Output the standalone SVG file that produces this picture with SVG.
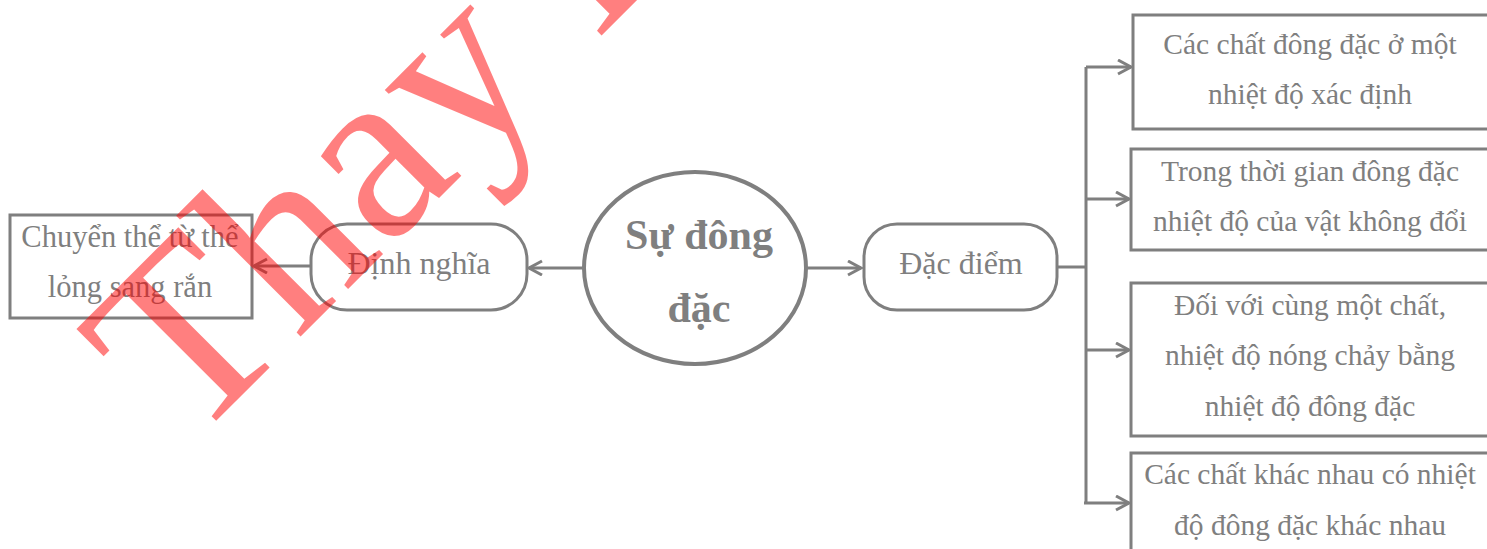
<svg xmlns="http://www.w3.org/2000/svg" width="1487" height="549" viewBox="0 0 1487 549">
<style>
.box{fill:#fff;stroke:#7f7f7f;stroke-width:3}
.ell{fill:#fff;stroke:#7f7f7f;stroke-width:4}
.t{font-family:"Liberation Serif","Times New Roman",serif;font-size:29.5px;fill:#7f7f7f;text-anchor:middle}
.tl{font-size:30.5px}
.tm{font-size:32px}
.tb{font-family:"Liberation Serif","Times New Roman",serif;font-size:42px;font-weight:bold;fill:#7f7f7f;text-anchor:middle}
.c{fill:none;stroke:#7f7f7f;stroke-width:3}
.wm{font-family:"Liberation Serif","Times New Roman",serif;font-size:250px;fill:#ff0000;fill-opacity:0.5}
</style>
<defs>
<marker id="arr" markerUnits="userSpaceOnUse" markerWidth="20" markerHeight="20" refX="15" refY="8" orient="auto">
<path d="M2,1 L15,8 L2,15" fill="none" stroke="#7f7f7f" stroke-width="3"/>
</marker>
</defs>
<rect width="1487" height="549" fill="#fff"/>
<g id="connectors">
<line class="c" x1="583" y1="268" x2="529" y2="268" marker-end="url(#arr)"/>
<line class="c" x1="310" y1="266" x2="254" y2="266" marker-end="url(#arr)"/>
<line class="c" x1="807" y1="268" x2="861" y2="268" marker-end="url(#arr)"/>
<line class="c" x1="1057" y1="267" x2="1086" y2="267"/>
<line class="c" x1="1086" y1="67" x2="1086" y2="503"/>
<line class="c" x1="1086" y1="67" x2="1131" y2="67" marker-end="url(#arr)"/>
<line class="c" x1="1086" y1="199" x2="1129" y2="199" marker-end="url(#arr)"/>
<line class="c" x1="1086" y1="350" x2="1129" y2="350" marker-end="url(#arr)"/>
<line class="c" x1="1084" y1="503" x2="1129" y2="503" marker-end="url(#arr)"/>
</g>
<g id="n-chuyen">
<rect class="box" x="10" y="215" width="242" height="103"/>
<text class="t tl" x="130" y="247">Chuyển  thể từ thể</text>
<text class="t tl" x="130" y="297">lỏng sang rắn</text>
</g>
<g id="n-dinhnghia">
<rect class="box" x="311" y="224" width="216" height="86" rx="36" ry="36"/>
<text class="t tm" x="419" y="274">Định nghĩa</text>
</g>
<g id="n-center">
<ellipse class="ell" cx="695" cy="268" rx="111" ry="96"/>
<text class="tb" x="699" y="249">Sự đông</text>
<text class="tb" x="699" y="322">đặc</text>
</g>
<g id="n-dacdiem">
<rect class="box" x="864" y="224" width="193" height="86" rx="33" ry="33"/>
<text class="t tm" x="961" y="274">Đặc điểm</text>
</g>
<g id="n-b1">
<rect class="box" x="1133" y="15" width="360" height="114"/>
<text class="t" x="1310" y="54">Các chất đông đặc ở một</text>
<text class="t" x="1310" y="104">nhiệt độ xác định</text>
</g>
<g id="n-b2">
<rect class="box" x="1131" y="149" width="360" height="101"/>
<text class="t" x="1310" y="181">Trong thời gian đông đặc</text>
<text class="t" x="1310" y="231">nhiệt độ của vật không đổi</text>
</g>
<g id="n-b3">
<rect class="box" x="1131" y="283" width="360" height="153"/>
<text class="t" x="1310" y="315">Đối với cùng một chất,</text>
<text class="t" x="1310" y="365">nhiệt độ nóng chảy bằng</text>
<text class="t" x="1310" y="416">nhiệt độ đông đặc</text>
</g>
<g id="n-b4">
<rect class="box" x="1131" y="453" width="360" height="110"/>
<text class="t" x="1310" y="484">Các chất khác nhau có nhiệt</text>
<text class="t" x="1310" y="535">độ đông đặc khác nhau</text>
</g>
<text class="wm" transform="translate(189,448) rotate(-45)">Thay L</text>
</svg>
